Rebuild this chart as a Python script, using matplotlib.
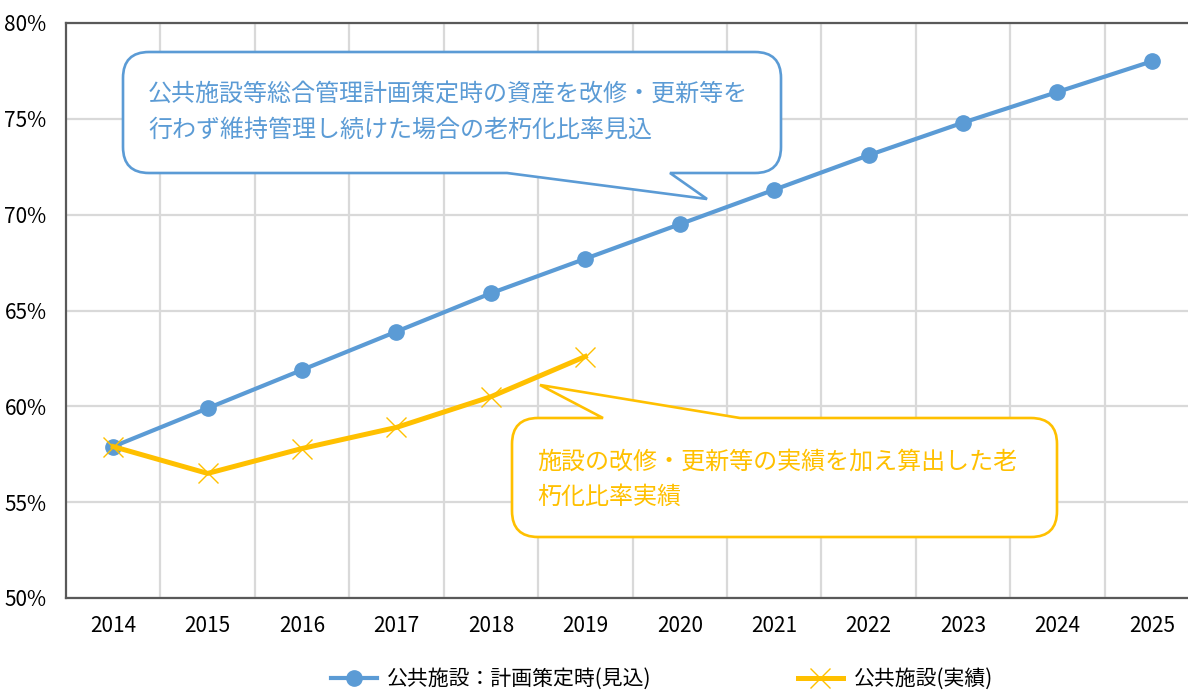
import matplotlib
matplotlib.use('Agg')
from matplotlib import pyplot as plt
from matplotlib.path import Path
from matplotlib.patches import PathPatch
from matplotlib.ticker import FuncFormatter, MultipleLocator, FixedLocator

plt.rcParams['font.family'] = ['Noto Sans CJK JP', 'DejaVu Sans']

# データ
years = ['2014', '2015', '2016', '2017', '2018', '2019',
         '2020', '2021', '2022', '2023', '2024', '2025']
plan_values = [57.9, 59.9, 61.9, 63.9, 65.9, 67.7,
               69.5, 71.3, 73.1, 74.8, 76.4, 78.0]
actual_values = [57.9, 56.5, 57.8, 58.9, 60.5, 62.6]

plan_label = '公共施設：計画策定時(見込)'
actual_label = '公共施設(実績)'
plan_note = '公共施設等総合管理計画策定時の資産を改修・更新等を\n行わず維持管理し続けた場合の老朽化比率見込'
actual_note = '施設の改修・更新等の実績を加え算出した老\n朽化比率実績'

BLUE = '#5b9bd5'
YELLOW = '#ffc000'
W, H = 1188, 691


def callout_path(x0, y0, x1, y1, r, edge, a, b, tip):
    '''
    @brief  角丸の吹き出しのパスを作る（ピクセル座標、y は下向き）
    '''
    verts = [(x0 + r, y0)]
    codes = [Path.MOVETO]
    if edge == 'top':
        verts += [(a, y0), tip, (b, y0)]
        codes += [Path.LINETO] * 3
    verts += [(x1 - r, y0), (x1, y0), (x1, y0 + r), (x1, y1 - r),
              (x1, y1), (x1 - r, y1)]
    codes += [Path.LINETO, Path.CURVE3, Path.CURVE3, Path.LINETO,
              Path.CURVE3, Path.CURVE3]
    if edge == 'bottom':
        verts += [(b, y1), tip, (a, y1)]
        codes += [Path.LINETO] * 3
    verts += [(x0 + r, y1), (x0, y1), (x0, y1 - r), (x0, y0 + r),
              (x0, y0), (x0 + r, y0), (x0 + r, y0)]
    codes += [Path.LINETO, Path.CURVE3, Path.CURVE3, Path.LINETO,
              Path.CURVE3, Path.CURVE3, Path.CLOSEPOLY]
    verts = [(x / W, 1 - y / H) for x, y in verts]
    return Path(verts, codes)


fig = plt.figure(figsize=(W / 100, H / 100), dpi=100)
ax = fig.add_axes([66 / W, 1 - 598 / H, (1199 - 66) / W, (598 - 23) / H])

x = list(range(len(years)))
ax.plot(x, plan_values, color=BLUE, lw=3, marker='o', ms=11,
        label=plan_label, zorder=3)
ax.plot(x[:len(actual_values)], actual_values, color=YELLOW, lw=3.6,
        marker='x', ms=14, mew=1, label=actual_label, zorder=4)

ax.set_xlim(-0.5, len(years) - 0.5)
ax.set_ylim(50, 80)
ax.set_xticks(x)
ax.set_xticklabels(years)
ax.yaxis.set_major_locator(MultipleLocator(5))
ax.yaxis.set_major_formatter(FuncFormatter(lambda v, p: '%d%%' % v))
ax.xaxis.set_minor_locator(FixedLocator([i + 0.5 for i in x]))
ax.grid(axis='y', which='major', color='#d9d9d9', lw=1.6)
ax.grid(axis='x', which='minor', color='#d9d9d9', lw=1.6)
ax.tick_params(which='both', length=0)
ax.tick_params(axis='x', labelsize=15, pad=12)
ax.tick_params(axis='y', labelsize=15, pad=14)
for side in ['left', 'top', 'bottom']:
    ax.spines[side].set_color('#595959')
    ax.spines[side].set_linewidth(1.6)
ax.spines['right'].set_visible(False)

# 吹き出し
blue_box = callout_path(123, 52, 781, 173, 26, 'bottom', 507, 670, (707, 199))
fig.patches.append(PathPatch(blue_box, transform=fig.transFigure,
                             facecolor='white', edgecolor=BLUE, lw=1.9, zorder=5))
fig.text(148 / W, 1 - 112 / H, plan_note, color=BLUE, fontsize=17.3,
         va='center', ha='left', linespacing=1.45, zorder=6)

yellow_box = callout_path(512, 418, 1057, 537, 26, 'top', 603, 740, (540, 385))
fig.patches.append(PathPatch(yellow_box, transform=fig.transFigure,
                             facecolor='white', edgecolor=YELLOW, lw=1.9, zorder=5))
fig.text(537 / W, 1 - 479 / H, actual_note, color=YELLOW, fontsize=17.3,
         va='center', ha='left', linespacing=1.45, zorder=6)

fig.legend(loc='center', bbox_to_anchor=(662 / W, 1 - 679 / H), ncol=2,
           frameon=False, fontsize=15, handlelength=2.2, columnspacing=7,
           handletextpad=0.5, borderpad=0.1)

plt.savefig('out.png', dpi=100)
